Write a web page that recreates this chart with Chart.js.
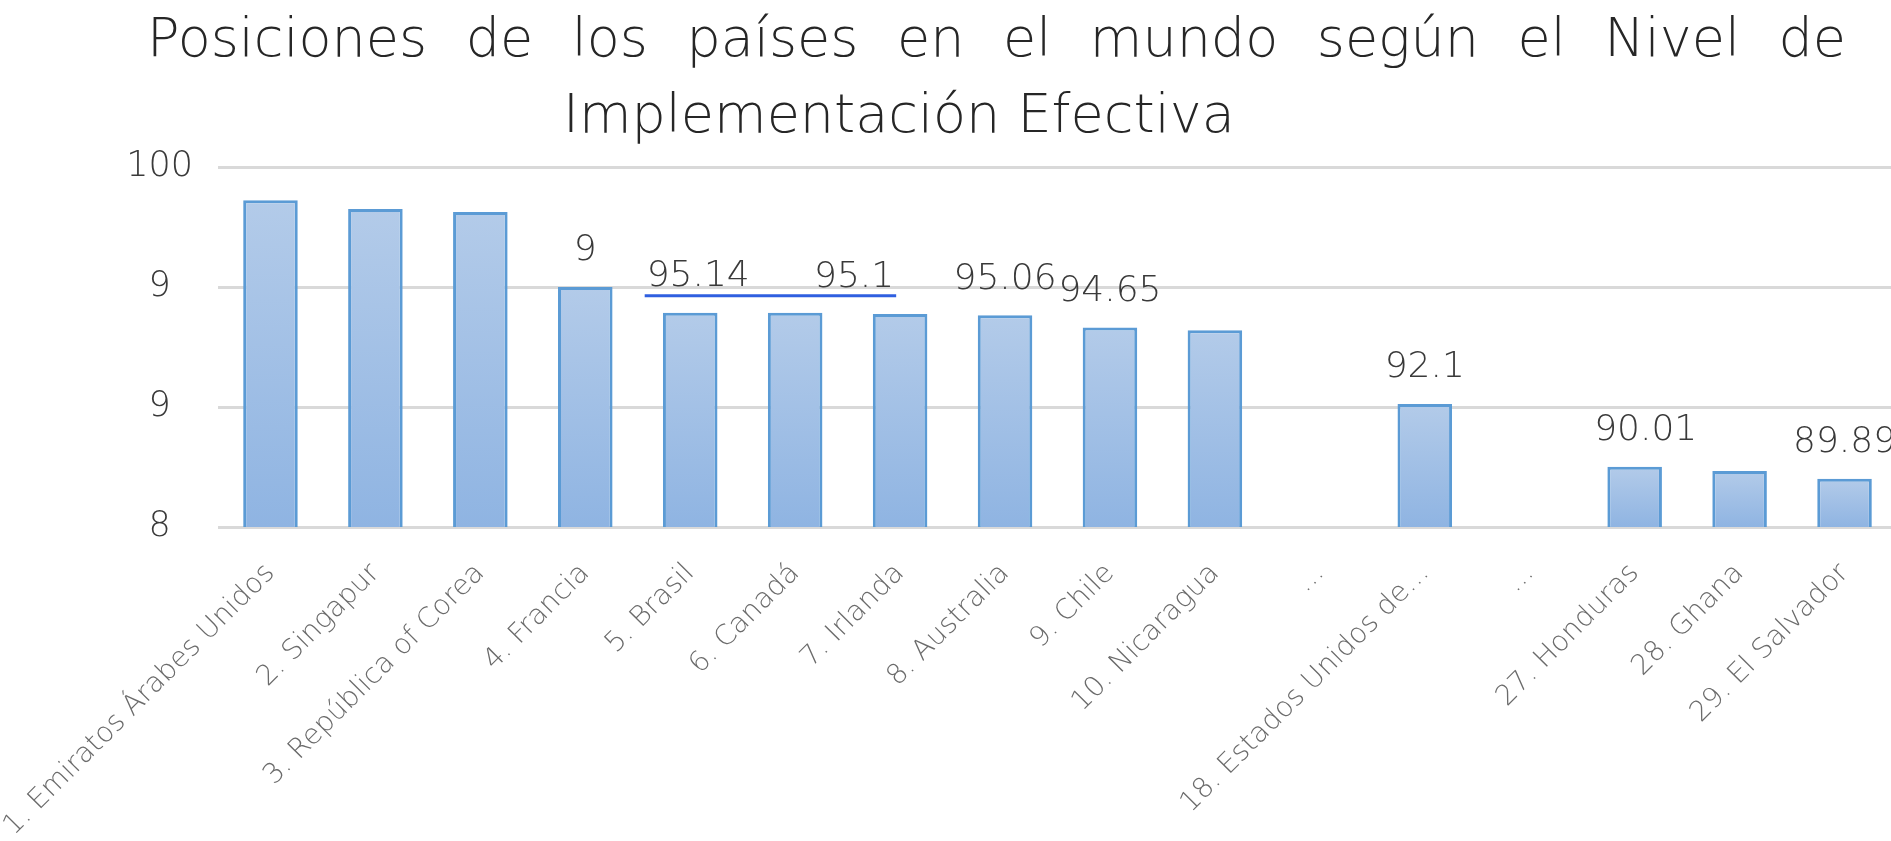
<!DOCTYPE html>
<html>
<head>
<meta charset="utf-8">
<script src="https://cdn.jsdelivr.net/npm/chart.js@4.4.0/dist/chart.umd.min.js"></script>
<style>
  html, body { margin: 0; padding: 0; background: #fff; overflow: hidden; width: 1891px; height: 841px; }
  #wrap { position: relative; width: 1891px; height: 841px; overflow: hidden; }
  #chart { position: absolute; left: 0; top: 0; }
  .title { position: absolute; font-family: "DejaVu Sans", sans-serif; font-weight: 200; font-size: 54px; color: #262626; white-space: nowrap; line-height: 1; }
  #t1 { left: 147px; top: 11px; width: 1699px; text-align: justify; text-align-last: justify; white-space: normal; }
  #t2 { left: 563px; top: 87px; }
</style>
</head>
<body>
<div id="wrap">
  <canvas id="chart" width="1900" height="841"></canvas>
  <div class="title" id="t1">Posiciones de los países en el mundo según el Nivel de</div>
  <div class="title" id="t2">Implementación Efectiva</div>
</div>
<script>
const categories = [
  "1. Emiratos Árabes Unidos", "2. Singapur", "3. República of Corea", "4. Francia",
  "5. Brasil", "6. Canadá", "7. Irlanda", "8. Australia", "9. Chile", "10. Nicaragua",
  "...", "18. Estados Unidos de...", "...", "27. Honduras", "28. Ghana", "29. El Salvador"
];
const values = [98.89, 98.6, 98.5, 96, 95.14, 95.14, 95.1, 95.06, 94.65, 94.56,
                null, 92.1, null, 90.01, 89.87, 89.61];
const valueLabels = ["", "", "", "9", "95.14", "", "95.1", "95.06", "94.65", "",
                     "", "92.1", "", "90.01", "", "89.89"];
const yTicks = [88, 92, 96, 100];
const yTickLabels = ["8", "9", "9", "100"];

const FONT = "'DejaVu Sans', sans-serif";

// per-bar vertical gradient, light at the top
function barFill(ctx) {
  const chart = ctx.chart;
  const area = chart.chartArea;
  const v = ctx.raw;
  if (!area || v == null) return "#9dbde6";
  const top = chart.scales.y.getPixelForValue(v);
  const g = chart.ctx.createLinearGradient(0, top, 0, area.bottom);
  g.addColorStop(0, "#b3cbe9");
  g.addColorStop(1, "#8fb4e2");
  return g;
}

const barLabels = {
  id: "barLabels",
  afterDatasetsDraw(chart, args, opts) {
    const ctx = chart.ctx;
    const meta = chart.getDatasetMeta(0);
    ctx.save();
    ctx.font = "200 36px " + FONT;
    ctx.fillStyle = "#3a3a3a";
    ctx.textAlign = "center";
    ctx.textBaseline = "middle";
    const boxes = {};
    valueLabels.forEach((txt, i) => {
      if (!txt) return;
      const el = meta.data[i];
      const x = el.x + (opts.nudge[i] || 0);
      const y = el.y - 36;
      ctx.fillText(txt, x, y);
      const w = ctx.measureText(txt).width;
      boxes[i] = { l: x - w / 2, r: x + w / 2, y: y };
    });
    // blue underline running under the 95.14 ... 95.1 labels
    if (boxes[4] && boxes[6]) {
      ctx.strokeStyle = "#2f5fe0";
      ctx.lineWidth = 3;
      ctx.beginPath();
      ctx.moveTo(boxes[4].l - 2, boxes[4].y + 19);
      ctx.lineTo(boxes[6].r + 2, boxes[4].y + 19);
      ctx.stroke();
    }
    ctx.restore();
  }
};

new Chart(document.getElementById("chart"), {
  type: "bar",
  data: {
    labels: categories,
    datasets: [{
      data: values,
      backgroundColor: barFill,
      borderColor: "#5b9bd5",
      borderWidth: 3,
      barPercentage: 0.52,
      categoryPercentage: 1,
    }],
  },
  options: {
    responsive: false,
    animation: false,
    devicePixelRatio: 1,
    layout: { padding: { top: 167, right: 3, left: 0, bottom: 0 } },
    plugins: {
      legend: { display: false },
      tooltip: { enabled: false },
      barLabels: { nudge: { 4: 8, 6: -46, 13: 11 } },
    },
    scales: {
      x: {
        grid: { display: false },
        border: { display: false },
        afterFit: (s) => {
          s.height = 314;
          s.paddingLeft = 0;   // let the long first label run off the left edge
          s.paddingRight = 0;
        },
        ticks: {
          autoSkip: false,
          maxRotation: 45,
          minRotation: 45,
          padding: 22,
          color: "#6b6b6b",
          font: { family: FONT, size: 28, weight: "200" },
        },
      },
      y: {
        min: 88,
        max: 100,
        afterFit: (s) => { s.width = 218; },
        afterBuildTicks: (s) => { s.ticks = yTicks.map(v => ({ value: v })); },
        border: { display: false },
        grid: { color: "#d9d9d9", lineWidth: 3, drawTicks: false },
        ticks: {
          padding: 25,
          crossAlign: "center",
          color: "#3a3a3a",
          font: { family: FONT, size: 35, weight: "200" },
          callback: (v) => yTickLabels[yTicks.indexOf(v)],
        },
      },
    },
  },
  plugins: [barLabels],
});
</script>
</body>
</html>
